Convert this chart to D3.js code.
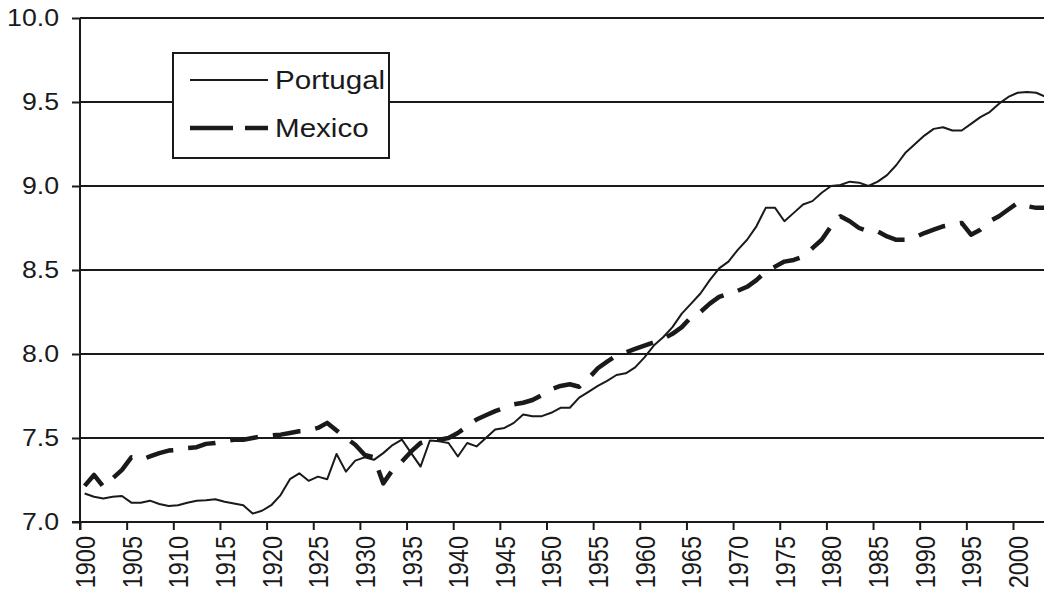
<!DOCTYPE html>
<html>
<head>
<meta charset="utf-8">
<script src="https://cdn.jsdelivr.net/npm/d3@7"></script>
<style>
  body { margin: 0; background: #fff; }
  svg { display: block; font-family: "Liberation Sans", Arial, sans-serif; }
  .axis path, .axis line { stroke: #1a1a1a; stroke-width: 2px; }
  .axis text { fill: #1a1a1a; }
  .grid line { stroke: #1a1a1a; stroke-width: 2px; }
</style>
</head>
<body>
<script>
var width = 1044, height = 596;

// years 1900..2003
var years = d3.range(1900, 2004);

var portugal = [
  7.17, 7.15, 7.14, 7.15, 7.155, 7.115, 7.115, 7.127, 7.107, 7.095,
  7.10, 7.115, 7.127, 7.13, 7.135, 7.12, 7.11, 7.10, 7.05, 7.067,
  7.10, 7.16, 7.255, 7.29, 7.245, 7.27, 7.255, 7.405, 7.30, 7.365,
  7.385, 7.37, 7.41, 7.458, 7.49, 7.41, 7.33, 7.485, 7.48, 7.47,
  7.39, 7.47, 7.45, 7.50, 7.55, 7.56, 7.59, 7.64, 7.63, 7.63,
  7.65, 7.68, 7.68, 7.74, 7.775, 7.81, 7.84, 7.875, 7.885, 7.92,
  7.98, 8.05, 8.10, 8.16, 8.24, 8.30, 8.36, 8.44, 8.51, 8.55,
  8.62, 8.68, 8.76, 8.87, 8.87, 8.79, 8.84, 8.89, 8.91, 8.96,
  9.00, 9.006, 9.026, 9.02, 9.00, 9.026, 9.065, 9.125, 9.20, 9.25,
  9.30, 9.34, 9.35, 9.33, 9.33, 9.37, 9.41, 9.44, 9.49, 9.53,
  9.555, 9.56, 9.555, 9.53
];

var mexico = [
  7.215, 7.28, 7.21, 7.26, 7.31, 7.385, 7.37, 7.39, 7.41, 7.425,
  7.43, 7.44, 7.445, 7.465, 7.47, 7.48, 7.49, 7.49, 7.50, 7.51,
  7.515, 7.52, 7.53, 7.54, 7.545, 7.56, 7.59, 7.545, 7.50, 7.46,
  7.40, 7.385, 7.23, 7.31, 7.36, 7.42, 7.47, 7.485, 7.49, 7.50,
  7.53, 7.57, 7.61, 7.635, 7.66, 7.68, 7.70, 7.71, 7.726, 7.756,
  7.79, 7.81, 7.82, 7.805, 7.855, 7.915, 7.955, 7.99, 8.01, 8.03,
  8.05, 8.07, 8.09, 8.12, 8.16, 8.22, 8.25, 8.30, 8.34, 8.36,
  8.376, 8.40, 8.44, 8.49, 8.52, 8.55, 8.56, 8.58, 8.63, 8.68,
  8.76, 8.82, 8.79, 8.75, 8.73, 8.73, 8.70, 8.68, 8.68, 8.695,
  8.72, 8.74, 8.76, 8.77, 8.78, 8.71, 8.74, 8.79, 8.82, 8.86,
  8.90, 8.88, 8.87, 8.87
];

var yTicks = [7.0, 7.5, 8.0, 8.5, 9.0, 9.5, 10.0];
var xTicks = d3.range(1900, 2001, 5);
var seriesNames = ["Portugal", "Mexico"];

var plotLeft = 80, plotTop = 18, plotBottom = 522;
var step = 9.33;
var stretch = 1.16; // the scan's glyphs are wider than tall

var x = d3.scaleLinear()
    .domain([1900, 2004])
    .range([plotLeft, plotLeft + 104 * step]);

var y = d3.scaleLinear()
    .domain([7, 10])
    .range([plotBottom, plotTop]);

var svg = d3.select("body").append("svg")
    .attr("width", width)
    .attr("height", height);

// gridlines
svg.append("g")
    .attr("class", "grid")
    .selectAll("line")
    .data(yTicks.slice(1))
    .enter().append("line")
    .attr("x1", plotLeft)
    .attr("x2", width)
    .attr("y1", function(d) { return y(d); })
    .attr("y2", function(d) { return y(d); });

// y axis
var yAxis = svg.append("g")
    .attr("class", "axis")
    .attr("transform", "translate(" + plotLeft + ",0)")
    .call(d3.axisLeft(y)
        .tickValues(yTicks)
        .tickFormat(d3.format(".1f"))
        .tickSize(8)
        .tickSizeOuter(0));
yAxis.select(".domain").attr("d", "M0," + (plotBottom + 8) + "V" + plotTop);
yAxis.selectAll("text")
    .style("font-size", "23px")
    .attr("x", 0)
    .attr("transform", "translate(-21,0) scale(" + stretch + ",1)");

// x axis
var xAxis = svg.append("g")
    .attr("class", "axis")
    .attr("transform", "translate(0," + plotBottom + ")")
    .call(d3.axisBottom(x)
        .tickValues(xTicks)
        .tickFormat(d3.format("d"))
        .tickSize(8)
        .tickSizeOuter(0));
xAxis.select(".domain").attr("d", "M" + (plotLeft - 8) + ",0H" + width);
xAxis.selectAll("text")
    .style("font-size", "23.5px")
    .attr("text-anchor", "end")
    .attr("y", 0)
    .attr("dy", "0.36em")
    .attr("transform", "translate(" + (step / 2) + ",14) scale(" + stretch + ",1) rotate(-90)");

// lines
var line = function(vals) {
  return d3.line()
    .x(function(d, i) { return x(years[i] + 0.5); })
    .y(function(d) { return y(d); })(vals);
};

svg.append("path")
    .attr("d", line(portugal))
    .attr("fill", "none")
    .attr("stroke", "#1a1a1a")
    .attr("stroke-width", 2)
    .attr("stroke-linejoin", "round");

svg.append("path")
    .attr("d", line(mexico))
    .attr("fill", "none")
    .attr("stroke", "#1a1a1a")
    .attr("stroke-width", 4.5)
    .attr("stroke-dasharray", "28,15")
    .attr("stroke-linejoin", "round");

// legend
var legend = svg.append("g");
legend.append("rect")
    .attr("x", 173).attr("y", 53)
    .attr("width", 216).attr("height", 105)
    .attr("fill", "#fff")
    .attr("stroke", "#1a1a1a")
    .attr("stroke-width", 2);

legend.append("line")
    .attr("x1", 190).attr("x2", 268)
    .attr("y1", 80).attr("y2", 80)
    .attr("stroke", "#1a1a1a").attr("stroke-width", 2);

legend.append("line")
    .attr("x1", 190).attr("x2", 268)
    .attr("y1", 128).attr("y2", 128)
    .attr("stroke", "#1a1a1a").attr("stroke-width", 4.5)
    .attr("stroke-dasharray", "43,12");

legend.selectAll("text.leg")
    .data(seriesNames)
    .enter().append("text")
    .attr("class", "leg")
    .attr("dy", "0.36em")
    .attr("transform", function(d, i) {
      return "translate(275," + (80 + i * 48) + ") scale(" + stretch + ",1)";
    })
    .style("font-size", "25.5px")
    .attr("fill", "#1a1a1a")
    .text(function(d) { return d; });
</script>
</body>
</html>
